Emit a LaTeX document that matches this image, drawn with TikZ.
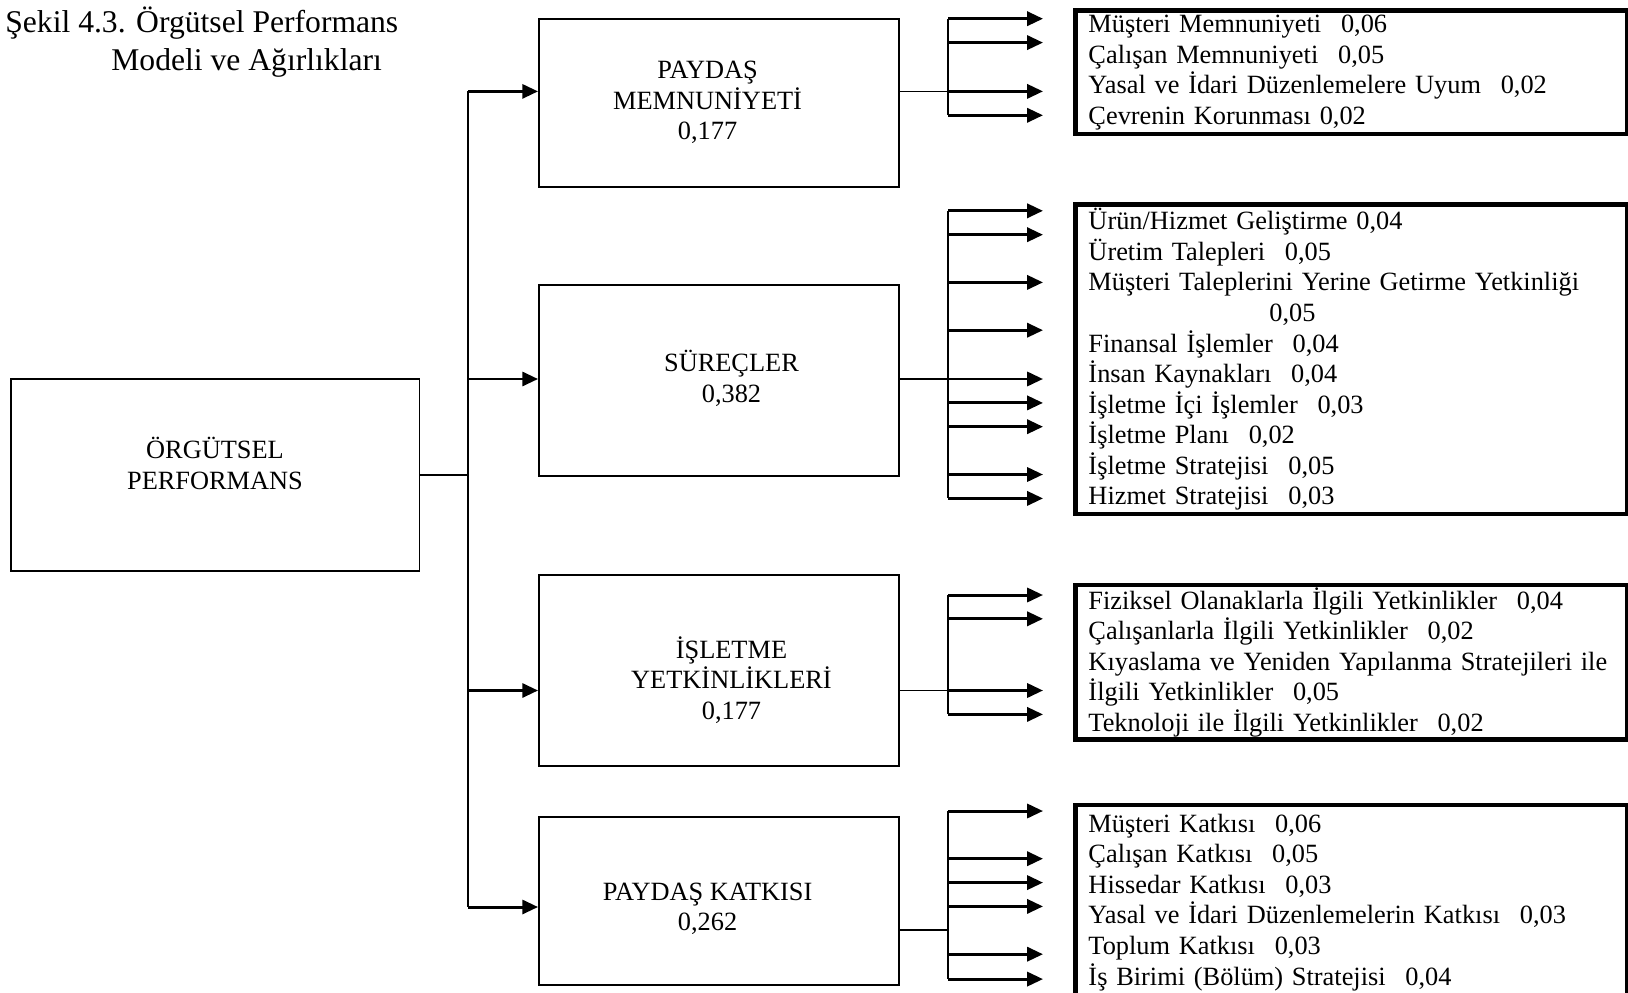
\documentclass[tikz,border=0pt]{standalone}
\usepackage{fontspec}
\setmainfont{Liberation Serif}
\usetikzlibrary{arrows.meta, positioning}

\newcommand{\wgap}{\hspace{0.75em}}
% block label moved by (#1,#2) off the box centre
\newcommand{\boxtext}[3]{\raisebox{#2}[\height][\depth]{\hspace*{#1}\begin{tabular}{@{}c@{}}#3\end{tabular}\hspace*{-#1}}}

\begin{document}
\begin{tikzpicture}[
                    x=0.02cm, y=-0.02cm,
                    node distance=1cm,
                    every node/.style={font=\fontsize{15}{17.4}\selectfont},
                    block/.style={rectangle, draw, line width=1.1pt, align=center, inner sep=0pt},
                    listbox/.style={rectangle, draw, line width=2.6pt, align=left, text width=299pt, inner xsep=7.5pt, inner ysep=0pt, anchor=north west},
                    line/.style={draw, line width=1pt},
                    barline/.style={draw, line width=1.4pt},
                    arrowline/.style={draw, line width=1.7pt, -{Triangle[length=9pt, width=8pt]}}
                ]
                    \fill[white] (0,0) rectangle (1628,993);
                    \useasboundingbox (0,0) rectangle (1628,993);

                    % Title
                    \node [font=\fontsize{18}{21}\selectfont, anchor=base west, inner sep=0pt] (title) at (5,33) {Şekil 4.3. Örgütsel Performans};
                    \node [font=\fontsize{18}{21}\selectfont, anchor=base west, inner sep=0pt] (title2) at (111,70.6) {Modeli ve Ağırlıkları};

                    % Place nodes
                    \node [block, minimum width=8.18cm, minimum height=3.84cm] (root) at (215,475) {\boxtext{0pt}{4.1pt}{ÖRGÜTSEL\\PERFORMANS}};
                    \node [block, minimum width=7.2cm, minimum height=3.36cm] (pm) at (719,102.8) {\boxtext{-6.5pt}{0pt}{PAYDAŞ\\MEMNUNİYETİ\\0,177}};
                    \node [block, minimum width=7.2cm, minimum height=3.82cm, below=19.3mm of pm] (sur) {\boxtext{7.1pt}{0pt}{SÜREÇLER\\0,382}};
                    \node [block, minimum width=7.2cm, minimum height=3.82cm, below=19.3mm of sur] (yet) {\boxtext{7.1pt}{-7.1pt}{İŞLETME\\YETKİNLİKLERİ\\0,177}};
                    \node [block, minimum width=7.2cm, minimum height=3.36cm, below=9.9mm of yet] (pk) {\boxtext{-6.5pt}{-4.7pt}{PAYDAŞ KATKISI\\0,262}};

                    % Sub-criteria lists
                    \node [listbox, minimum height=2.472cm] (l1) at (1073,8.3) {%
                        Müşteri Memnuniyeti\wgap 0,06\\
                        Çalışan Memnuniyeti\wgap 0,05\\
                        Yasal ve İdari Düzenlemelere Uyum\wgap 0,02\\
                        Çevrenin Korunması 0,02};
                    \node [listbox, minimum height=6.188cm] (l2) at (1073,202.5) {%
                        Ürün/Hizmet Geliştirme 0,04\\
                        Üretim Talepleri\wgap 0,05\\
                        Müşteri Taleplerini Yerine Getirme Yetkinliği\\
                        \hspace*{103pt}0,05\\
                        Finansal İşlemler\wgap 0,04\\
                        İnsan Kaynakları\wgap 0,04\\
                        İşletme İçi İşlemler\wgap 0,03\\
                        İşletme Planı\wgap 0,02\\
                        İşletme Stratejisi\wgap 0,05\\
                        Hizmet Stratejisi\wgap 0,03};
                    \node [listbox, minimum height=3.094cm] (l3) at (1073,582.5) {%
                        Fiziksel Olanaklarla İlgili Yetkinlikler\wgap 0,04\\
                        Çalışanlarla İlgili Yetkinlikler\wgap 0,02\\
                        \mbox{Kıyaslama ve Yeniden Yapılanma Stratejileri ile}\\
                        İlgili Yetkinlikler\wgap 0,05\\
                        Teknoloji ile İlgili Yetkinlikler\wgap 0,02};
                    \node [listbox, minimum height=3.9cm] (l4) at (1073,802.6) {%
                        Müşteri Katkısı\wgap 0,06\\
                        Çalışan Katkısı\wgap 0,05\\
                        Hissedar Katkısı\wgap 0,03\\
                        Yasal ve İdari Düzenlemelerin Katkısı\wgap 0,03\\
                        Toplum Katkısı\wgap 0,03\\
                        İş Birimi (Bölüm) Stratejisi\wgap 0,04};

                    % Draw edges
                    \coordinate (trunk) at (468,475);
                    \coordinate (bar) at (948,0);
                    \coordinate (tip) at (1043,0);

                    \path [line] (root.east) -- (trunk);
                    \path [line] (trunk |- 0,91.4) -- (trunk |- 0,907);
                    \foreach \blk/\y in {pm/91.4, sur/379, yet/690.5, pk/907}
                        \path [arrowline] (trunk |- 0,\y) -- (\blk.west |- 0,\y);

                    \foreach \blk/\yout/\ytop/\ybot/\ys in {
                        pm/91.4/18.7/115.3/{18.7,42.6,91.4,115.3},
                        sur/379/210.8/498.4/{210.8,234.7,282.4,330.2,379,402.9,426.7,474.5,498.4},
                        yet/690.5/595/714.4/{595,618.8,690.5,714.4},
                        pk/930/811/979.1/{811,858.7,882.6,906.4,954.2,979.1}}
                    {
                        \path [line] (\blk.east |- 0,\yout) -- (bar |- 0,\yout);
                        \path [barline] (bar |- 0,\ytop) -- (bar |- 0,\ybot);
                        \foreach \y in \ys
                            \path [arrowline] (bar |- 0,\y) -- (tip |- 0,\y);
                    }
            \end{tikzpicture}
\end{document}
